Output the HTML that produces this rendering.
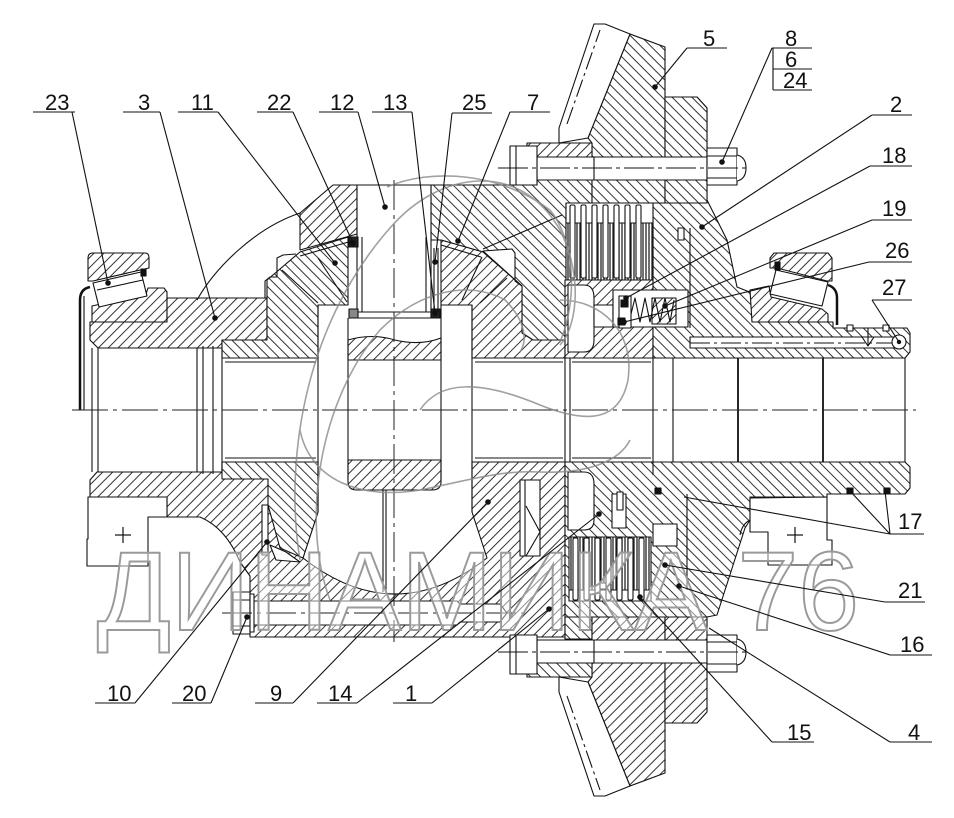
<!DOCTYPE html>
<html><head><meta charset="utf-8"><style>
html,body{margin:0;padding:0;background:#fff;}
svg{display:block;}
.t{font-family:"Liberation Sans",sans-serif;font-size:22px;fill:#111;}
</style></head><body>
<svg width="954" height="818" viewBox="0 0 954 818" xmlns="http://www.w3.org/2000/svg">
<defs>
<pattern id="ha" patternUnits="userSpaceOnUse" width="7" height="7" patternTransform="rotate(45)"><rect width="7" height="7" fill="#fff"/><line x1="0.5" y1="0" x2="0.5" y2="7" stroke="#333" stroke-width="1"/></pattern>
<pattern id="hb" patternUnits="userSpaceOnUse" width="7" height="7" patternTransform="rotate(-45)"><rect width="7" height="7" fill="#fff"/><line x1="0.5" y1="0" x2="0.5" y2="7" stroke="#333" stroke-width="1"/></pattern>
<pattern id="hd" patternUnits="userSpaceOnUse" width="3" height="10"><rect width="3" height="10" fill="#fff"/><line x1="1" y1="0" x2="1" y2="10" stroke="#222" stroke-width="1.3"/></pattern>
<g id="g5" stroke="#111" stroke-width="1.1">
 <polygon fill="url(#hb)" points="588,138 630,34 665,47 665,203 592,203 592,143"/>
 <polygon fill="#fff" points="559,128 594,24 605,24 630,34 588,138 559,143"/>
 <line stroke-dasharray="18,4,3,4" x1="567" y1="124" x2="600" y2="30"/>
 <rect fill="url(#ha)" x="527" y="143" width="65" height="14"/>
 <polygon fill="url(#hb)" points="665,97 697,97 707,108 707,203 665,203"/>
 <rect fill="#fff" x="537" y="157" width="170" height="23"/>
 <line x1="594" y1="157" x2="594" y2="180"/>
 <rect fill="#fff" x="510" y="146" width="27" height="39"/>
 <line x1="516" y1="146" x2="516" y2="185"/>
 <rect fill="#fff" x="707" y="148" width="30" height="37"/>
 <line x1="707" y1="156" x2="737" y2="156"/><line x1="707" y1="178" x2="737" y2="178"/>
 <path fill="#fff" d="M737,155 Q746,157 746,168 Q746,179 737,181"/>
 <line stroke-dasharray="30,4,4,4" x1="498" y1="168" x2="750" y2="168"/>
</g>
</defs>
<rect width="954" height="818" fill="#fff"/>

<g stroke="#111" stroke-width="1.1" stroke-linejoin="round">
<!-- TOP hatched -->
<path fill="url(#ha)" d="M88,258 Q88,253 93,253 L145,253 Q149,253 149,258 L149,268 L93,281 L88,281 Z"/>
<polygon fill="url(#ha)" points="92,306 146,294 148,288 164,288 167,292 167,322 92,322"/>
<polygon fill="url(#ha)" points="90,322 167,322 167,298 267,298 267,340 222,340 222,348 98,348 90,340"/>
<polygon fill="url(#hb)" points="267,280 300,252 348,237 348,305 318,305 318,358 222,358 222,340 267,340"/>
<polygon fill="url(#ha)" points="300,250 300,213 333,185 357,185 357,234"/>
<polygon fill="url(#hb)" points="431,185 537,185 537,180 592,180 592,203 566,203 566,340 533,340 522,333 522,286 483,252 441,240 431,240"/>
<polygon fill="url(#ha)" points="441,240 483,252 522,286 522,333 533,340 565,340 565,358 472,358 472,305 441,305"/>
<rect fill="url(#ha)" x="565" y="280" width="88" height="78"/>
<polygon fill="url(#hb)" points="653,203 665,203 665,97 697,97 707,108 707,200 727,240 737,287 752,293 752,322 833,322 833,328 907,328 910,333 910,352 905,358 653,358"/>
<polygon fill="url(#ha)" points="770,258 774,253 828,253 832,258 832,281 827,281 777,268 770,268"/>
<polygon fill="url(#ha)" points="750,290 769,286 771,297 822,309 828,314 828,322 752,322"/>

<!-- BOTTOM hatched -->
<path fill="url(#ha)" d="M90,480 L97,472 L222,472 L222,462 L318,462 L318,512 L303,558 Q395,630 487,558 L472,512 L472,462 L565,462 L565,637 L250,637 L250,576 L240,562 Q226,528 200,517 L167,517 L167,497 L90,497 Z"/>
<polygon fill="url(#hb)" points="222,462 318,462 318,512 303,558 280,548 268,505 268,479 222,479"/>
<polygon fill="url(#hb)" points="565,462 905,462 910,467 910,488 905,494 827,494 827,497 750,497 750,520 745,528 717,615 707,617 565,617"/>
<rect fill="url(#hb)" x="565" y="617" width="27" height="22"/>

<!-- gear 5 top & bottom -->
<use href="#g5"/>
<use href="#g5" transform="translate(0,820) scale(1,-1)"/>

<!-- TOP voids/details -->
<polygon fill="#fff" points="93,283 141,272 147,296 99,307"/>
<line x1="97" y1="290" x2="143" y2="280"/>
<rect x="141" y="269" width="5" height="7" fill="#111"/>
<rect fill="#fff" x="357" y="185" width="74" height="133"/>
<line x1="362" y1="237" x2="362" y2="312"/><line x1="426" y1="237" x2="426" y2="312"/>
<line x1="357" y1="312" x2="431" y2="312"/>
<rect x="349" y="237" width="9" height="10" fill="#222"/>
<rect x="349" y="309" width="9" height="9" fill="#888"/>
<rect x="431" y="309" width="9" height="9" fill="#222"/>
<line x1="434" y1="248" x2="434" y2="312"/><line x1="438" y1="248" x2="438" y2="312"/>
<polygon fill="#fff" points="483,251 512,249 515,253 515,281 522,286"/>
<rect fill="#fff" x="566" y="203" width="87" height="20"/>
<rect fill="url(#hd)" x="566" y="223" width="87" height="57"/>
<rect fill="#fff" x="570" y="205" width="5" height="73" rx="1.5"/>
<rect fill="#fff" x="581" y="205" width="5" height="73" rx="1.5"/>
<rect fill="#fff" x="592" y="205" width="5" height="73" rx="1.5"/>
<rect fill="#fff" x="603" y="205" width="5" height="73" rx="1.5"/>
<rect fill="#fff" x="614" y="205" width="5" height="73" rx="1.5"/>
<rect fill="#fff" x="625" y="205" width="5" height="73" rx="1.5"/>
<rect fill="#fff" x="636" y="205" width="5" height="73" rx="1.5"/>
<path fill="#fff" d="M568,285 L584,285 Q594,285 594,298 L594,340 Q594,352 584,352 L568,352 Z"/>
<rect fill="#fff" x="594" y="305" width="19" height="22"/>
<rect fill="#fff" x="613" y="290" width="75" height="37"/>
<rect fill="url(#ha)" x="652" y="298" width="24" height="26"/>
<polyline fill="none" points="630,318 635,298 640,322 645,298 650,322 655,298 660,322 665,298 670,322 674,300"/>
<rect fill="#fff" x="619" y="296" width="12" height="32"/>
<rect x="621" y="300" width="7" height="7" fill="#111"/>
<rect x="618" y="318" width="7" height="7" fill="#111"/>
<rect fill="#fff" x="678" y="228" width="6" height="12"/>
<rect fill="#fff" x="690" y="337" width="206" height="11"/>
<line stroke-dasharray="20,4,3,4" x1="690" y1="343" x2="896" y2="343"/>
<circle cx="899" cy="342" r="7" fill="#fff"/>
<line x1="868" y1="328" x2="868" y2="346"/><polyline fill="none" points="862,337 868,346 874,337"/>
<rect fill="#fff" x="847" y="325" width="6" height="6"/><rect fill="#fff" x="883" y="325" width="6" height="6"/>
<polygon fill="#fff" points="776,270 828,282 822,306 770,294"/>
<rect x="775" y="262" width="5" height="8" fill="#111"/>
<path fill="none" stroke-width="2.5" d="M828,285 Q837,288 837,298 L837,325"/>
<path fill="none" stroke-width="2.5" d="M90,287 Q80,289 80,300 L80,410"/>
<line x1="84" y1="296" x2="84" y2="410"/>
<path fill="url(#ha)" d="M348,340 Q372,333 395,340 Q420,346 441,338 L441,360 L348,360 Z"/>

<!-- BOTTOM voids/details -->
<path fill="url(#ha)" d="M348,460 L441,460 L441,482 Q441,490 432,490 L357,490 Q348,490 348,482 Z"/>
<polygon fill="#fff" points="252,601 457,601 460,604 500,604 507,613 500,622 460,622 457,625 252,625"/>
<rect fill="#fff" x="233" y="592" width="17" height="42"/>
<rect fill="#fff" x="250" y="594" width="4" height="38"/>
<line x1="233" y1="600" x2="250" y2="600"/><line x1="233" y1="626" x2="250" y2="626"/>
<rect fill="#fff" x="520" y="480" width="20" height="76"/>
<polyline fill="none" points="526,506 540,532 526,556"/>
<line x1="525" y1="480" x2="525" y2="556"/>
<rect fill="#fff" x="262" y="505" width="6" height="50"/>
<polygon fill="#fff" points="270,545 286,552 300,562 276,560"/>
<path fill="#fff" d="M568,472 L584,472 Q594,472 594,484 L594,520 Q594,530 584,530 L568,530 Z"/>
<rect fill="#fff" x="612" y="494" width="14" height="34"/>
<rect fill="#fff" x="617" y="492" width="6" height="18"/>
<rect fill="#fff" x="653" y="524" width="24" height="22"/>
<rect fill="url(#hd)" x="569" y="537" width="82" height="53"/>
<rect fill="#fff" x="569" y="590" width="82" height="11"/>
<rect fill="#fff" x="573" y="538" width="5" height="62" rx="1.5"/>
<rect fill="#fff" x="584" y="538" width="5" height="62" rx="1.5"/>
<rect fill="#fff" x="595" y="538" width="5" height="62" rx="1.5"/>
<rect fill="#fff" x="606" y="538" width="5" height="62" rx="1.5"/>
<rect fill="#fff" x="617" y="538" width="5" height="62" rx="1.5"/>
<rect fill="#fff" x="628" y="538" width="5" height="62" rx="1.5"/>
<rect fill="#fff" x="639" y="538" width="5" height="62" rx="1.5"/>
<rect x="600" y="583" width="6" height="6" fill="#fff"/>
<rect x="655" y="488" width="6" height="6" fill="#111"/>
<rect x="847" y="488" width="6" height="6" fill="#111"/>
<rect x="884" y="488" width="6" height="6" fill="#111"/>
<path fill="#fff" d="M88,497 L88,539 L87,539 L87,566 L148,566 L148,517 L167,517 L167,497 Z"/>
<path fill="#fff" d="M750,498 L750,532 L768,532 L768,565 L832,565 L832,540 L827,540 L827,497 Z"/>
<path fill="none" d="M750,520 Q742,524 740,535"/>

<!-- outlines / misc lines -->
<path fill="none" d="M197,300 C215,268 255,228 300,213"/>
<path fill="none" d="M265,298 L265,281 L270,277 L277,277 L277,258 L283,255 L296,254"/>
<line x1="282" y1="270" x2="318" y2="303"/>
<line x1="300" y1="256" x2="352" y2="241"/>
<line x1="318" y1="258" x2="347" y2="302"/>
<line x1="441" y1="245" x2="481" y2="257"/>
<line x1="462" y1="300" x2="482" y2="257"/>
<line x1="480" y1="303" x2="507" y2="278"/>
<line x1="562" y1="215" x2="483" y2="249"/>
<line x1="92" y1="348" x2="92" y2="472"/><line x1="98" y1="348" x2="98" y2="472"/>
<line x1="197" y1="348" x2="197" y2="472"/><line x1="203" y1="346" x2="203" y2="474"/>
<line x1="213" y1="346" x2="213" y2="474"/><line x1="222" y1="348" x2="222" y2="472"/>
<line x1="318" y1="305" x2="318" y2="512"/><line x1="348" y1="318" x2="348" y2="480"/>
<line x1="441" y1="305" x2="441" y2="480"/><line x1="472" y1="305" x2="472" y2="512"/>
<line x1="383" y1="490" x2="383" y2="592"/><line x1="386" y1="490" x2="386" y2="592"/>
<line x1="225" y1="362" x2="316" y2="362"/><line x1="225" y1="458" x2="316" y2="458"/>
<line x1="475" y1="362" x2="563" y2="362"/><line x1="475" y1="458" x2="563" y2="458"/>
<line x1="572" y1="362" x2="651" y2="362"/><line x1="572" y1="458" x2="651" y2="458"/>
<line x1="565" y1="358" x2="565" y2="462"/><line x1="570" y1="358" x2="570" y2="462"/>
<line x1="653" y1="345" x2="653" y2="475"/><line x1="673" y1="358" x2="673" y2="462"/>
<line x1="738" y1="358" x2="738" y2="462" stroke-width="1.8"/><line x1="823" y1="358" x2="823" y2="462" stroke-width="1.8"/>
<line x1="905" y1="358" x2="905" y2="462"/>
<line x1="690" y1="228" x2="690" y2="328"/>
<line x1="687" y1="494" x2="687" y2="590"/>
</g>

<!-- centerlines -->
<g stroke="#222" stroke-width="1" fill="none">
<line x1="72" y1="410" x2="916" y2="410" stroke-dasharray="36,5,4,5"/>
<line x1="394" y1="180" x2="394" y2="642" stroke-dasharray="30,5,4,5"/>
<line x1="222" y1="613" x2="525" y2="613" stroke-dasharray="30,5,4,5"/>
</g>

<!-- swirl logo (faint) -->
<g stroke="#8a8a8a" stroke-width="1.6" fill="none" opacity="0.8">
<path d="M300,560 C285,470 300,330 390,228 C440,170 520,160 560,230 C585,280 575,330 560,345"/>
<path d="M387,187 C430,168 500,172 550,210 C575,240 578,300 560,342"/>
<path d="M330,600 C300,520 320,400 380,330 C420,290 470,280 505,300 C525,320 528,340 520,352"/>
<path d="M420,410 C440,380 480,380 540,405 C590,425 620,420 628,380 C635,330 600,300 560,300"/>
<path d="M300,430 C310,480 360,500 420,490 C470,480 500,470 540,472 C590,474 620,460 630,440"/>
</g>

<!-- watermark -->
<text x="97" y="630" font-family="Liberation Sans, DejaVu Sans, sans-serif" font-size="112" textLength="762" lengthAdjust="spacingAndGlyphs" fill="#fff" fill-opacity="0.45" stroke="#9a9a9a" stroke-width="2">ДИНАМИКА 76</text>
<g stroke="#111" stroke-width="1.2"><line x1="115" y1="535" x2="131" y2="535"/><line x1="123" y1="527" x2="123" y2="543"/>
<line x1="787" y1="535" x2="803" y2="535"/><line x1="795" y1="527" x2="795" y2="543"/></g>

<!-- leaders -->
<g stroke="#111" stroke-width="1.1" fill="none">
<line x1="33" y1="112" x2="75" y2="112"/><line x1="72" y1="112" x2="108" y2="283"/>
<line x1="123" y1="112" x2="160" y2="112"/><line x1="160" y1="112" x2="215" y2="318"/>
<line x1="178" y1="112" x2="218" y2="112"/><line x1="218" y1="112" x2="335" y2="263"/>
<line x1="257" y1="112" x2="293" y2="112"/><line x1="293" y1="112" x2="353" y2="243"/>
<line x1="319" y1="112" x2="358" y2="112"/><line x1="358" y1="112" x2="385" y2="207"/>
<line x1="372" y1="112" x2="412" y2="112"/><line x1="412" y1="112" x2="435" y2="313"/>
<line x1="452" y1="113" x2="492" y2="113"/><line x1="452" y1="113" x2="435" y2="262"/>
<line x1="510" y1="112" x2="550" y2="112"/><line x1="510" y1="112" x2="458" y2="241"/>
<line x1="687" y1="48" x2="727" y2="48"/><line x1="687" y1="48" x2="655" y2="87"/>
<line x1="772" y1="48" x2="812" y2="48"/><line x1="773" y1="69" x2="812" y2="69"/><line x1="773" y1="90" x2="812" y2="90"/><line x1="773" y1="48" x2="773" y2="90"/>
<line x1="772" y1="48" x2="722" y2="162"/>
<line x1="872" y1="115" x2="912" y2="115"/><line x1="872" y1="115" x2="702" y2="227"/>
<line x1="870" y1="166" x2="912" y2="166"/><line x1="870" y1="166" x2="626" y2="298"/>
<line x1="872" y1="220" x2="912" y2="220"/><line x1="872" y1="220" x2="665" y2="306"/>
<line x1="869" y1="262" x2="912" y2="262"/><line x1="869" y1="262" x2="624" y2="322"/>
<line x1="872" y1="300" x2="912" y2="300"/><line x1="872" y1="300" x2="899" y2="342"/>
<line x1="890" y1="534" x2="924" y2="534"/><line x1="890" y1="534" x2="850" y2="491"/><line x1="890" y1="534" x2="885" y2="491"/><line x1="890" y1="534" x2="684" y2="497"/>
<line x1="885" y1="602" x2="925" y2="602"/><line x1="885" y1="602" x2="665" y2="565"/>
<line x1="890" y1="655" x2="932" y2="655"/><line x1="890" y1="655" x2="679" y2="586"/>
<line x1="890" y1="742" x2="932" y2="742"/><line x1="890" y1="742" x2="709" y2="628"/>
<line x1="772" y1="742" x2="814" y2="742"/><line x1="772" y1="742" x2="640" y2="597"/>
<line x1="95" y1="703" x2="135" y2="703"/><line x1="135" y1="703" x2="267" y2="542"/>
<line x1="172" y1="703" x2="211" y2="703"/><line x1="211" y1="703" x2="247" y2="617"/>
<line x1="255" y1="703" x2="293" y2="703"/><line x1="293" y1="703" x2="488" y2="502"/>
<line x1="317" y1="703" x2="357" y2="703"/><line x1="357" y1="703" x2="599" y2="514"/>
<line x1="393" y1="703" x2="432" y2="703"/><line x1="432" y1="703" x2="549" y2="609"/>
</g>
<g fill="#111">
<circle cx="108" cy="283" r="2.8"/><circle cx="215" cy="318" r="2.8"/><circle cx="335" cy="263" r="2.8"/>
<circle cx="353" cy="243" r="2.8"/><circle cx="385" cy="207" r="2.8"/><circle cx="435" cy="313" r="2.8"/>
<circle cx="435" cy="262" r="2.8"/><circle cx="458" cy="241" r="2.8"/><circle cx="655" cy="87" r="2.8"/>
<circle cx="722" cy="162" r="2.8"/><circle cx="702" cy="227" r="2.8"/><circle cx="626" cy="298" r="2.8"/>
<circle cx="665" cy="306" r="2.8"/><circle cx="624" cy="322" r="2.8"/><circle cx="899" cy="342" r="2.2"/>
<circle cx="665" cy="565" r="2.8"/><circle cx="679" cy="586" r="2.8"/><circle cx="640" cy="597" r="2.8"/>
<circle cx="267" cy="542" r="2.8"/><circle cx="247" cy="617" r="2.8"/><circle cx="488" cy="502" r="2.8"/>
<circle cx="599" cy="514" r="2.8"/><circle cx="549" cy="609" r="2.8"/>
</g>

<!-- labels -->
<g class="t">
<text x="45" y="110">23</text><text x="138" y="110">3</text><text x="191" y="110">11</text>
<text x="267" y="110">22</text><text x="330" y="110">12</text><text x="383" y="110">13</text>
<text x="462" y="110">25</text><text x="527" y="110">7</text>
<text x="703" y="46">5</text><text x="785" y="46">8</text><text x="785" y="67">6</text><text x="783" y="88">24</text>
<text x="890" y="112">2</text><text x="882" y="163">18</text><text x="882" y="216">19</text>
<text x="885" y="258">26</text><text x="882" y="295">27</text>
<text x="898" y="529">17</text><text x="898" y="598">21</text><text x="900" y="652">16</text>
<text x="908" y="740">4</text><text x="787" y="740">15</text>
<text x="107" y="701">10</text><text x="182" y="701">20</text><text x="270" y="701">9</text>
<text x="328" y="701">14</text><text x="405" y="701">1</text>
</g>
</svg>
</body></html>
